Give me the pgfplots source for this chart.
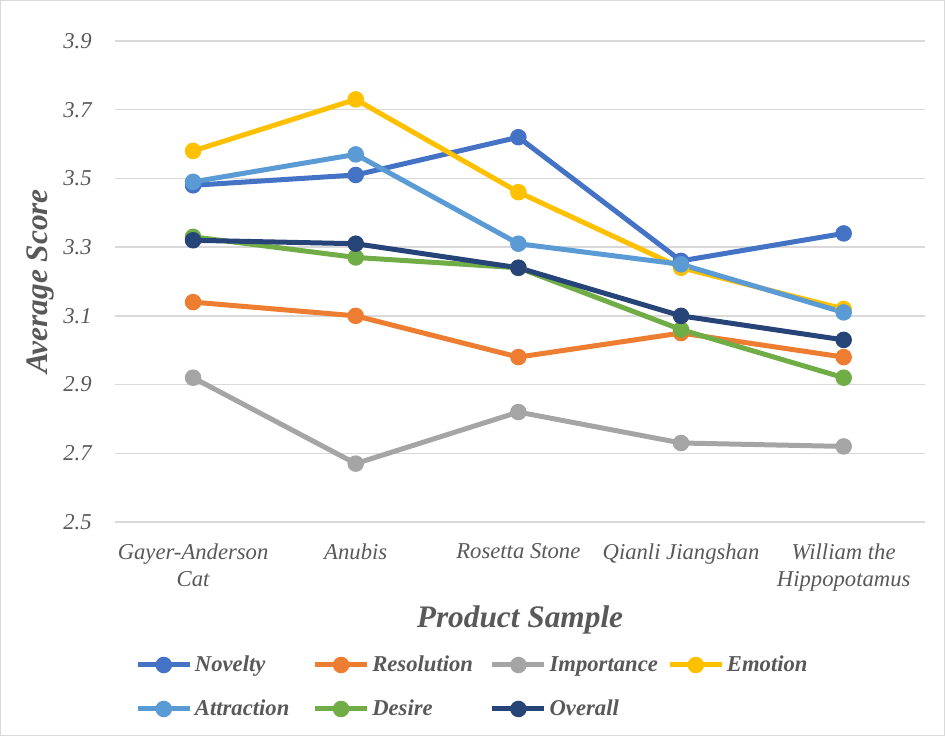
\documentclass[border=0pt]{standalone}
\usepackage{pgfplots}
\pgfplotsset{compat=1.18}
\usepackage{fontspec}
\setmainfont{Liberation Serif}
\definecolor{cNov}{HTML}{4472C4}
\definecolor{cRes}{HTML}{ED7D31}
\definecolor{cImp}{HTML}{A5A5A5}
\definecolor{cEmo}{HTML}{FFC000}
\definecolor{cAtt}{HTML}{5B9BD5}
\definecolor{cDes}{HTML}{70AD47}
\definecolor{cOve}{HTML}{264478}
\definecolor{txt}{HTML}{595959}
\definecolor{gridc}{HTML}{D9D9D9}
\newcommand{\LE}[1]{\makebox[86.25pt][l]{#1}}
\begin{document}
\begin{tikzpicture}
\begin{axis}[
  scale only axis,
  width=607.5pt, height=360.75pt,
  xmin=-0.48, xmax=4.5,
  ymin=2.5, ymax=3.9,
  ytick={2.5,2.7,2.9,3.1,3.3,3.5,3.7,3.9},
  xtick={0,1,2,3,4},
  xticklabels={{Gayer-Anderson\\Cat},{Anubis},{Rosetta Stone},{Qianli Jiangshan},{William the\\Hippopotamus}},
  xticklabel style={align=center, font=\fontsize{17}{20.5}\selectfont\itshape, text=txt, yshift=-12.5pt},
  yticklabel style={font=\fontsize{17}{20}\selectfont\itshape, text=txt, xshift=-14pt},
  /pgf/number format/.cd, fixed, fixed zerofill, precision=1, assume math mode=true,
  /pgfplots/.cd,
  axis line style={draw=none},
  major tick length=0pt,
  ymajorgrids, grid style={gridc, line width=1pt},
  xlabel={Product Sample},
  ylabel={Average Score},
  xlabel style={font=\fontsize{23.5}{26}\selectfont\bfseries\itshape, text=txt, at={(axis description cs:0.5,-0.2035)}, anchor=center},
  ylabel style={font=\fontsize{23.5}{26}\selectfont\bfseries\itshape, text=txt, at={(axis description cs:-0.0926,0.5)}, anchor=center, rotate=0},
  every axis plot/.append style={line width=3.75pt, mark=*, mark size=4.3pt},
  legend columns=4,
  legend style={draw=none, fill=none, inner sep=0pt, at={(axis description cs:0.0247,-0.343)}, anchor=west,
    font=\fontsize{17}{18}\selectfont\bfseries\itshape, text=txt,
    /tikz/every odd column/.append style={column sep=0pt},
    /tikz/every even column/.append style={column sep=0pt},
    row sep=15.5pt, cells={anchor=west, inner sep=0pt, text height=12pt, text depth=4pt}},
  legend image code/.code={\draw[mark repeat=2,mark phase=2,#1] plot coordinates {(0pt,0pt) (19.5pt,0pt) (39pt,0pt)};},
  clip=false,
]
\addplot[cNov, mark options={fill=cNov, draw=cNov}] coordinates {(0,3.48) (1,3.51) (2,3.62) (3,3.26) (4,3.34)};
\addlegendentry{\LE{Novelty}}
\addplot[cRes, mark options={fill=cRes, draw=cRes}] coordinates {(0,3.14) (1,3.10) (2,2.98) (3,3.05) (4,2.98)};
\addlegendentry{\LE{Resolution}}
\addplot[cImp, mark options={fill=cImp, draw=cImp}] coordinates {(0,2.92) (1,2.67) (2,2.82) (3,2.73) (4,2.72)};
\addlegendentry{\LE{Importance}}
\addplot[cEmo, mark options={fill=cEmo, draw=cEmo}] coordinates {(0,3.58) (1,3.73) (2,3.46) (3,3.24) (4,3.12)};
\addlegendentry{\LE{Emotion}}
\addplot[cAtt, mark options={fill=cAtt, draw=cAtt}] coordinates {(0,3.49) (1,3.57) (2,3.31) (3,3.25) (4,3.11)};
\addlegendentry{\LE{Attraction}}
\addplot[cDes, mark options={fill=cDes, draw=cDes}] coordinates {(0,3.33) (1,3.27) (2,3.24) (3,3.06) (4,2.92)};
\addlegendentry{\LE{Desire}}
\addplot[cOve, mark options={fill=cOve, draw=cOve}] coordinates {(0,3.32) (1,3.31) (2,3.24) (3,3.10) (4,3.03)};
\addlegendentry{\LE{Overall}}
\end{axis}
\draw[gridc, line width=0.75pt] (-85.5pt,-159.75pt) rectangle (621.75pt,390.75pt);
\useasboundingbox (-86.25pt,-160.5pt) rectangle (622.5pt,391.5pt);
\end{tikzpicture}
\end{document}
